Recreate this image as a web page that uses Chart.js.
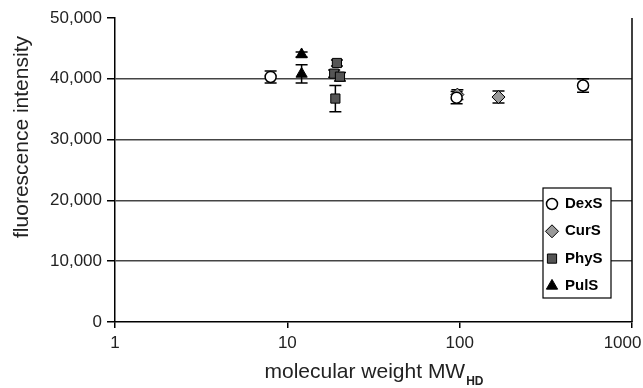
<!DOCTYPE html>
<html>
<head>
<meta charset="utf-8">
<script src="https://cdn.jsdelivr.net/npm/chart.js@4/dist/chart.umd.min.js"></script>
<style>
  body { margin: 0; background: #fff; }
  #wrap { width: 643px; height: 388px; }
</style>
</head>
<body>
<div id="wrap"><canvas id="chart" width="643" height="388"></canvas></div>
<script>
const xTicks = [1, 10, 100, 1000];
const yMax = 50000;
const yStep = 10000;

const seriesNames = ["DexS", "CurS", "PhyS", "PulS"];

const dexX = [8, 96, 520];
const dexY = [40300, 36900, 38900];
const dexErr = [1000, 1000, 1100];

const curX = [97, 168];
const curY = [37400, 37000];
const curErr = [800, 1000];

const phyX = [18.7, 19.4, 20.2, 19.0];
const phyY = [40850, 42600, 40350, 36750];
const phyErr = [600, 500, 700, 2150];

const pulX = [12.1, 12.1];
const pulY = [44000, 40800];
const pulErr = [400, 1500];

const textColor = "#222";
const font = "Liberation Sans, Arial, sans-serif";

function points(xs, ys, errs) {
  return xs.map((x, i) => ({ x, y: ys[i], err: errs[i] }));
}

const styles = [
  { pointStyle: "circle", radius: 5.5, backgroundColor: "#fff", borderColor: "#000", borderWidth: 1.5 },
  { pointStyle: "rectRot", radius: 6.5, backgroundColor: "#999", borderColor: "#000", borderWidth: 1 },
  { pointStyle: "rect", radius: 6.5, backgroundColor: "#555", borderColor: "#000", borderWidth: 1 },
  { pointStyle: "triangle", radius: 6.5, backgroundColor: "#000", borderColor: "#000", borderWidth: 1 }
];

const allData = [
  points(dexX, dexY, dexErr),
  points(curX, curY, curErr),
  points(phyX, phyY, phyErr),
  points(pulX, pulY, pulErr)
];

const datasets = allData.map((data, i) => ({
  label: seriesNames[i],
  data,
  showLine: false,
  pointStyle: styles[i].pointStyle,
  pointRadius: styles[i].radius,
  pointHoverRadius: styles[i].radius,
  pointBackgroundColor: styles[i].backgroundColor,
  pointBorderColor: styles[i].borderColor,
  pointBorderWidth: styles[i].borderWidth
}));

// vertical error bars, drawn under the markers
const errorBars = {
  id: "errorBars",
  beforeDatasetsDraw(chart) {
    const { ctx, scales } = chart;
    ctx.save();
    ctx.strokeStyle = "#000";
    ctx.lineWidth = 1.5;
    chart.data.datasets.forEach((ds) => {
      ds.data.forEach((p) => {
        const px = scales.x.getPixelForValue(p.x);
        const top = scales.y.getPixelForValue(p.y + p.err);
        const bottom = scales.y.getPixelForValue(p.y - p.err);
        ctx.beginPath();
        ctx.moveTo(px, top);
        ctx.lineTo(px, bottom);
        ctx.moveTo(px - 6, top);
        ctx.lineTo(px + 6, top);
        ctx.moveTo(px - 6, bottom);
        ctx.lineTo(px + 6, bottom);
        ctx.stroke();
      });
    });
    ctx.restore();
  }
};

// right frame, boxed legend and both axis titles
const decorations = {
  id: "decorations",
  afterDraw(chart) {
    const { ctx, chartArea: ca } = chart;
    ctx.save();

    ctx.strokeStyle = "#000";
    ctx.lineWidth = 1.5;
    ctx.beginPath();
    ctx.moveTo(ca.right, ca.top);
    ctx.lineTo(ca.right, ca.bottom);
    ctx.stroke();

    const boxL = ca.right - 89;
    const boxT = ca.top + 170;
    const boxW = 68;
    const boxH = 110;
    ctx.fillStyle = "#fff";
    ctx.fillRect(boxL, boxT, boxW, boxH);
    ctx.lineWidth = 1.2;
    ctx.strokeRect(boxL, boxT, boxW, boxH);

    ctx.font = "bold 15px " + font;
    ctx.textBaseline = "middle";
    ctx.textAlign = "left";
    chart.data.datasets.forEach((ds, i) => {
      const cy = boxT + 16 + i * 27.3;
      const cx = boxL + 9;
      const st = styles[i];
      ctx.fillStyle = st.backgroundColor;
      ctx.strokeStyle = st.borderColor;
      ctx.lineWidth = st.borderWidth;
      Chart.helpers.drawPoint(ctx, {
        pointStyle: st.pointStyle,
        radius: st.radius,
        borderWidth: st.borderWidth
      }, cx, cy);
      ctx.fillStyle = "#000";
      ctx.fillText(ds.label, boxL + 22, cy);
    });

    // y title
    ctx.fillStyle = textColor;
    ctx.font = "21px " + font;
    ctx.textAlign = "center";
    ctx.textBaseline = "middle";
    ctx.save();
    ctx.translate(22, 137);
    ctx.rotate(-Math.PI / 2);
    ctx.fillText("fluorescence intensity", 0, 0);
    ctx.restore();

    // x title with subscript
    const main = "molecular weight MW";
    const sub = "HD";
    ctx.textAlign = "left";
    ctx.textBaseline = "alphabetic";
    ctx.font = "21px " + font;
    const wMain = ctx.measureText(main).width;
    ctx.font = "bold 12px " + font;
    const wSub = ctx.measureText(sub).width;
    const startX = (ca.left + ca.right) / 2 - (wMain + wSub) / 2;
    ctx.font = "21px " + font;
    ctx.fillText(main, startX, 378);
    ctx.font = "bold 12px " + font;
    ctx.fillText(sub, startX + wMain + 1, 385);

    ctx.restore();
  }
};

new Chart(document.getElementById("chart"), {
  type: "scatter",
  data: { datasets },
  plugins: [errorBars, decorations],
  options: {
    responsive: false,
    animation: false,
    layout: { padding: { top: 18, right: 11, bottom: 0, left: 0 } },
    plugins: {
      legend: { display: false },
      tooltip: { enabled: false }
    },
    scales: {
      x: {
        type: "logarithmic",
        min: 1,
        max: 1000,
        afterBuildTicks: (scale) => {
          scale.ticks = xTicks.map((v) => ({ value: v }));
        },
        afterFit: (scale) => {
          scale.height = 66;
          scale.paddingLeft = 0;
          scale.paddingRight = 0;
        },
        ticks: {
          // last label is nudged left so it stays inside the canvas
          callback: (v) => (v === 1000 ? String(v) + "    " : String(v)),
          font: { size: 17, family: font },
          color: textColor,
          maxRotation: 0,
          autoSkip: false,
          padding: 5
        },
        grid: {
          drawOnChartArea: false,
          tickLength: 6,
          color: "#000",
          lineWidth: 1.5
        },
        border: { color: "#000", width: 1.5 }
      },
      y: {
        min: 0,
        max: yMax,
        afterFit: (scale) => {
          scale.width = 115;
          scale.paddingTop = 0;
          scale.paddingBottom = 0;
        },
        ticks: {
          stepSize: yStep,
          callback: (v) => v.toLocaleString("en-US"),
          font: { size: 17, family: font },
          color: textColor,
          padding: 5
        },
        grid: {
          color: (c) => (c.tick && (c.tick.value === yMax || c.tick.value === 0) ? "rgba(0,0,0,0)" : "#444"),
          tickColor: "#000",
          tickLength: 8,
          lineWidth: 1.5
        },
        border: { color: "#000", width: 1.5 }
      }
    }
  }
});
</script>
</body>
</html>
